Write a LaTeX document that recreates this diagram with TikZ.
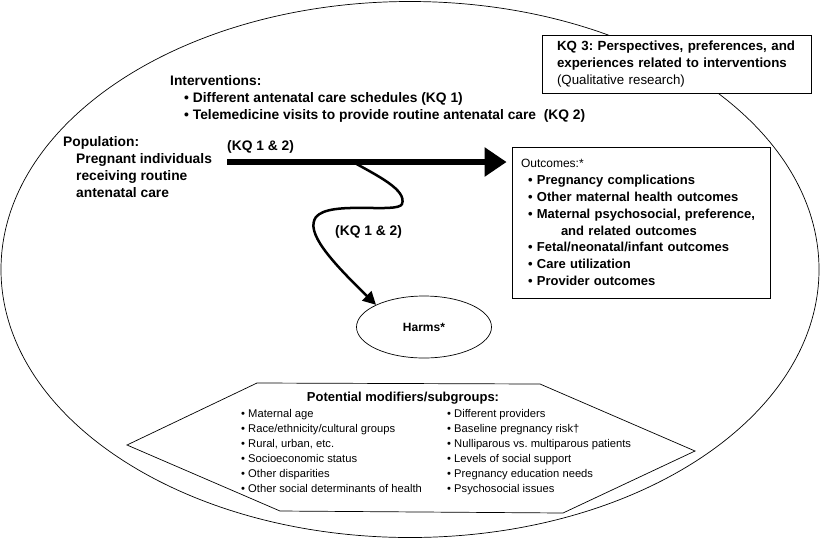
\documentclass[tikz,border=0pt]{standalone}
\usepackage{fontspec}
\setmainfont{Liberation Sans}
\usetikzlibrary{arrows.meta,shapes.geometric}
\frenchspacing
\begin{document}
\begin{tikzpicture}[x=1pt,y=-1pt,
  bigtext/.style={font=\fontsize{13.8}{16.8}\selectfont\bfseries, inner sep=0pt, align=left},
  boxtext/.style={font=\fontsize{13.3}{16.8}\selectfont\bfseries, align=left},
  smalltext/.style={font=\fontsize{11.2}{15}\selectfont, inner sep=0pt, align=left},
  boxnode/.style={draw, line width=0.8pt, fill=white, inner ysep=0pt},
  thin/.style={line width=0.7pt}]
\useasboundingbox (0,0) rectangle (821,539);
% big ellipse
\draw[thin] (410,269.5) ellipse [x radius=409, y radius=268];
% KQ3 box
\node[boxnode, boxtext, minimum width=269pt, minimum height=58pt, text width=239pt, inner xsep=15pt] (kq3) at (676.5,64)
 {KQ 3: Perspectives, preferences, and\\experiences related to interventions\\{\mdseries (Qualitative research)}};
% interventions
\node[bigtext, anchor=west] (interv) at (170,99)
 {Interventions:\\\hspace{14pt}\textbullet{} Different antenatal care schedules (KQ 1)\\\hspace{14pt}\textbullet{} Telemedicine visits to provide routine antenatal care~ (KQ 2)};
% population
\node[bigtext, anchor=west] (pop) at (63,167)
 {Population:\\\hspace{13pt}Pregnant individuals\\\hspace{13pt}receiving routine\\\hspace{13pt}antenatal care};
% outcomes
\node[boxnode, font=\fontsize{13}{16.8}\selectfont\bfseries, align=left, minimum width=258pt, minimum height=151pt, text width=240pt, inner xsep=9pt] (out) at (641,222.5)
 {{\mdseries\fontsize{12}{16.8}\selectfont Outcomes:*}\\
 \hspace{7pt}\textbullet{} Pregnancy complications\\
 \hspace{7pt}\textbullet{} Other maternal health outcomes\\
 \hspace{7pt}\textbullet{} Maternal psychosocial, preference,\\
 \hspace{40pt}and related outcomes\\
 \hspace{7pt}\textbullet{} Fetal/neonatal/infant outcomes\\
 \hspace{7pt}\textbullet{} Care utilization\\
 \hspace{7pt}\textbullet{} Provider outcomes};
% harms
\node[draw, thin, ellipse, minimum width=135pt, minimum height=62pt, inner sep=0pt,
  font=\fontsize{12}{14}\selectfont\bfseries] (harms) at (424,327) {Harms*};
% main arrow
\coordinate (arrS) at (227,162);
\coordinate (branch) at (353,162);
\draw[line width=6pt, -{Triangle[length=22pt,width=28pt]}, shorten >=5pt] (arrS) -- (arrS -| out.west);
\node[bigtext, anchor=west] (kqa) at (227,147) {(KQ 1 \& 2)};
% curved arrow
\draw[line width=2.5pt, -{Triangle[length=13pt,width=13pt]}]
  (branch) .. controls (378,176) and (407,190) .. (402,204)
  .. controls (398,214) and (330,200) .. (316,217)
  .. controls (305,232) and (330,260) .. (harms.north west);
\node[bigtext, anchor=west] (kqb) at (335,232) {(KQ 1 \& 2)};
% modifiers hexagon
\draw[thin, fill=white] (127,445) -- (257,383) -- (540,384) -- (695,451) -- (563,513) -- (280,511) -- cycle;
\node[font=\fontsize{13}{15}\selectfont\bfseries, inner sep=0pt] (modt) at (403,398) {Potential modifiers/subgroups:};
\node[smalltext, anchor=north west] (modl) at (241,409)
 {\textbullet{} Maternal age\\\textbullet{} Race/ethnicity/cultural groups\\\textbullet{} Rural, urban, etc.\\\textbullet{} Socioeconomic status\\\textbullet{} Other disparities\\\textbullet{} Other social determinants of health};
\node[smalltext, anchor=north west] (modr) at (447,409)
 {\textbullet{} Different providers\\\textbullet{} Baseline pregnancy risk\textdagger\\\textbullet{} Nulliparous vs. multiparous patients\\\textbullet{} Levels of social support\\\textbullet{} Pregnancy education needs\\\textbullet{} Psychosocial issues};
\end{tikzpicture}
\end{document}
